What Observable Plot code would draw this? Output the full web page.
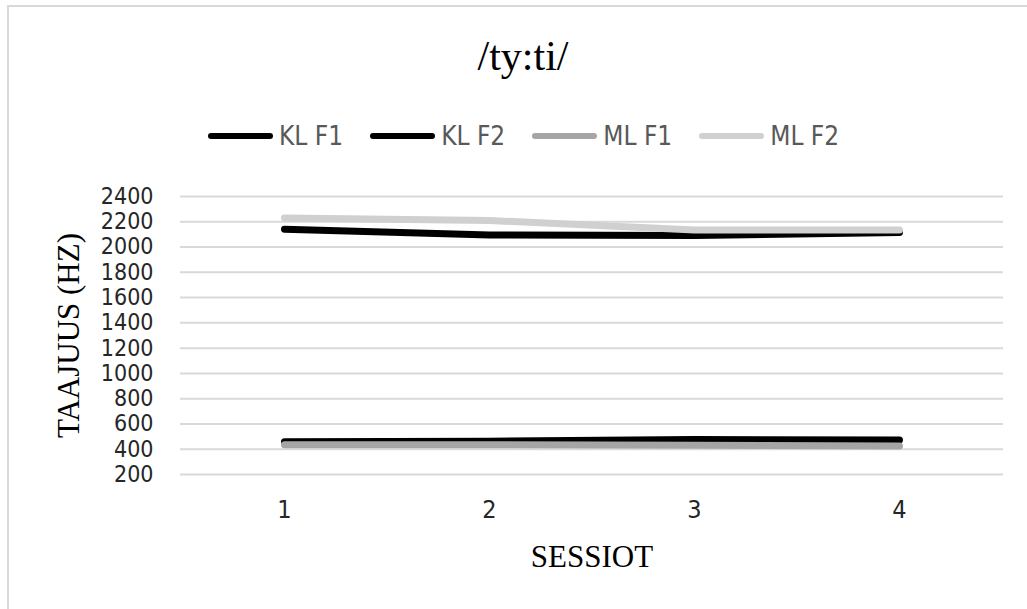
<!DOCTYPE html>
<html><head><meta charset="utf-8">
<script src="https://cdn.jsdelivr.net/npm/d3@7"></script>
<script src="https://cdn.jsdelivr.net/npm/@observablehq/plot@0.6"></script>
<style>
body{margin:0;background:#fff;}
#wrap{position:relative;width:1027px;height:609px;overflow:hidden;background:#fff;}
#border{position:absolute;left:7px;top:5px;width:1060px;height:660px;border:2px solid #d9d9d9;box-sizing:border-box;}
#title{position:absolute;top:35px;left:523px;transform:translateX(-50%);font-family:"Liberation Serif","Times New Roman",serif;font-size:42px;line-height:42px;color:#000;white-space:nowrap;}
#legend{position:absolute;top:121px;left:208px;display:flex;align-items:center;font-family:"Liberation Sans Narrow","DejaVu Sans Condensed",sans-serif;font-size:26px;color:#595959;white-space:nowrap;}
.item{display:flex;align-items:center;margin-right:27px;}
.sw{width:65px;height:6px;border-radius:3px;margin-right:6px;}
#chart{position:absolute;left:0;top:180px;}
</style></head>
<body><div id="wrap"><div id="border"></div><div id="title">/ty:ti/</div><div id="legend"></div><div id="chart"></div></div>
<script>
const sessions = [1, 2, 3, 4];
const seriesNames = ["KL F1", "KL F2", "ML F1", "ML F2"];
const klF1 = [460, 463, 476, 473];
const klF2 = [2141, 2095, 2092, 2115];
const mlF1 = [436, 436, 432, 425];
const mlF2 = [2230, 2210, 2135, 2135];
const seriesColors = ["#000000", "#000000", "#a5a5a5", "#d0d0d0"];
const yTicks = [200, 400, 600, 800, 1000, 1200, 1400, 1600, 1800, 2000, 2200, 2400];
const titleText = "/ty:ti/";
const yLabel = "TAAJUUS (HZ)";
const xLabel = "SESSIOT";

const seriesValues = [klF1, klF2, mlF1, mlF2];
const rows = [];
seriesNames.forEach((name, i) => {
  sessions.forEach((s, j) => rows.push({series: name, session: s, value: seriesValues[i][j]}));
});

// legend
const legend = d3.select("#legend");
seriesNames.forEach((name, i) => {
  const it = legend.append("div").attr("class", "item");
  it.append("div").attr("class", "sw").style("background", seriesColors[i]);
  it.append("span").text(name);
});

const serif = "'Liberation Serif','Times New Roman',serif";
const chart = Plot.plot({
  width: 1027,
  height: 404,
  marginLeft: 180,
  marginRight: 24,
  marginTop: 16,
  marginBottom: 110,
  style: {fontFamily: "'Liberation Sans Narrow','DejaVu Sans Condensed',sans-serif", fontSize: "23px", color: "#262626", background: "transparent"},
  x: {type: "point", domain: sessions, padding: 0.5},
  y: {domain: [200, 2400]},
  color: {domain: seriesNames, range: seriesColors},
  marks: [
    Plot.gridY(yTicks, {stroke: "#d9d9d9", strokeOpacity: 1, strokeWidth: 2}),
    Plot.axisY(yTicks, {tickSize: 0, tickPadding: 27, label: null, tickFormat: d => String(d)}),
    Plot.axisX(sessions, {tickSize: 0, tickPadding: 26, label: null, fontSize: 25, tickFormat: d => String(d)}),
    Plot.lineY(rows, {x: "session", y: "value", z: "series", stroke: "series", strokeWidth: 7, strokeLinecap: "round", strokeLinejoin: "round"}),
    Plot.text([yLabel], {text: d => d, frameAnchor: "left", dx: -111, rotate: -90, textAnchor: "middle", lineAnchor: "middle", fontFamily: serif, fontSize: 31, fill: "#000"}),
    Plot.text([xLabel], {text: d => d, frameAnchor: "bottom", dy: 83, textAnchor: "middle", lineAnchor: "middle", fontFamily: serif, fontSize: 31, fill: "#000"})
  ]
});
document.getElementById("chart").appendChild(chart);
</script>
</body></html>
